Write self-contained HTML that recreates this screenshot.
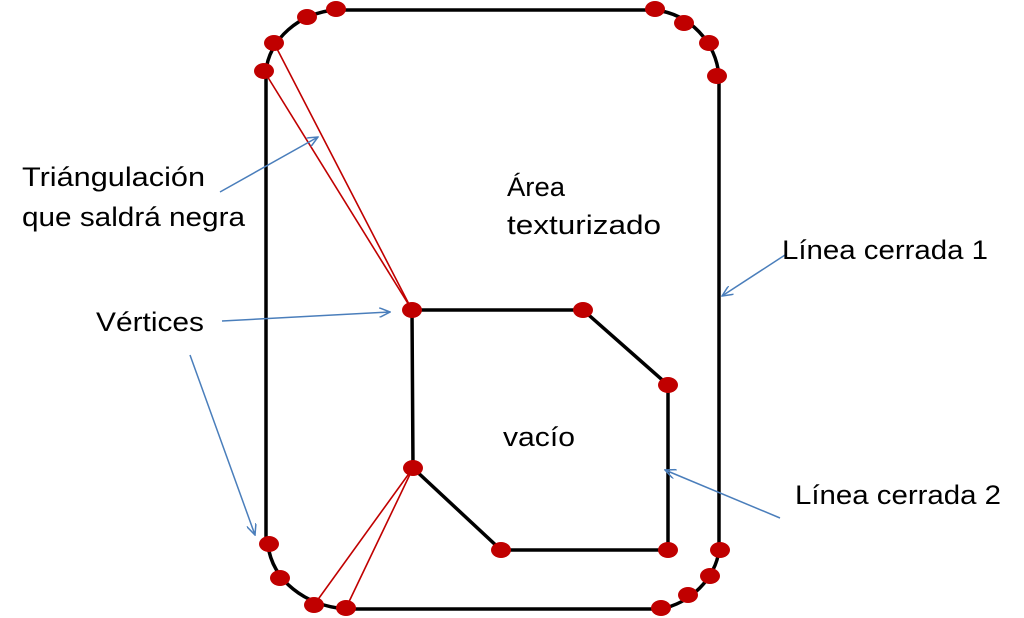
<!DOCTYPE html>
<html><head><meta charset="utf-8"><style>html,body{margin:0;padding:0;background:#fff}svg{display:block}</style></head>
<body>
<svg width="1024" height="618" viewBox="0 0 1024 618" xmlns="http://www.w3.org/2000/svg">
<defs><marker id="a" markerWidth="12" markerHeight="10" refX="11" refY="5" orient="auto" markerUnits="userSpaceOnUse"><path d="M0,0 L11,5 L0,10" fill="none" stroke="#4a7ebb" stroke-width="1.5"/></marker></defs>
<g fill="none" stroke="#000" stroke-width="3.5">
<path d="M266,545 L266,72 C268,40 300,12 336,10 L655,10 C690,14 716,42 719,76 L719,550 C716,578 690,604 660,609 L346,609 C305,606 272,580 268,545 Z"/>
<path d="M412,310 L583,310 L668,385 L668,550 L501,550 L413,468 Z"/>
</g>
<g stroke="#c00000" stroke-width="1.6">
<line x1="412" y1="310" x2="274" y2="43"/><line x1="412" y1="310" x2="264" y2="71"/>
<line x1="413" y1="468" x2="314" y2="605"/><line x1="413" y1="468" x2="346" y2="608"/>
</g>
<g fill="#c00000">
<ellipse cx="264" cy="71" rx="10" ry="8"/><ellipse cx="274" cy="43" rx="10" ry="8"/><ellipse cx="307" cy="17" rx="10" ry="8"/><ellipse cx="336" cy="9" rx="10" ry="8"/>
<ellipse cx="655" cy="9" rx="10" ry="8"/><ellipse cx="684" cy="23" rx="10" ry="8"/><ellipse cx="709" cy="43" rx="10" ry="8"/><ellipse cx="717" cy="76" rx="10" ry="8"/>
<ellipse cx="720" cy="550" rx="10" ry="8"/><ellipse cx="710" cy="576" rx="10" ry="8"/><ellipse cx="688" cy="595" rx="10" ry="8"/><ellipse cx="661" cy="608" rx="10" ry="8"/>
<ellipse cx="269" cy="544" rx="10" ry="8"/><ellipse cx="280" cy="578" rx="10" ry="8"/><ellipse cx="314" cy="605" rx="10" ry="8"/><ellipse cx="346" cy="608" rx="10" ry="8"/>
<ellipse cx="412" cy="310" rx="10" ry="8"/><ellipse cx="583" cy="310" rx="10" ry="8"/><ellipse cx="668" cy="385" rx="10" ry="8"/><ellipse cx="668" cy="550" rx="10" ry="8"/><ellipse cx="501" cy="550" rx="10" ry="8"/><ellipse cx="413" cy="468" rx="10" ry="8"/>
</g>
<g stroke="#4a7ebb" stroke-width="1.5" marker-end="url(#a)">
<line x1="220" y1="192" x2="318" y2="137"/>
<line x1="222" y1="321" x2="390" y2="312"/>
<line x1="190" y1="355" x2="255" y2="535"/>
<line x1="785" y1="255" x2="722" y2="296"/>
<line x1="780" y1="518" x2="665" y2="470"/>
</g>
<g font-family="Liberation Sans, sans-serif" font-size="27" fill="#000">
<text x="22" y="186" textLength="183" lengthAdjust="spacingAndGlyphs">Triángulación</text>
<text x="22" y="226" textLength="223" lengthAdjust="spacingAndGlyphs">que saldrá negra</text>
<text x="507" y="196" textLength="58" lengthAdjust="spacingAndGlyphs">Área</text>
<text x="507" y="234" textLength="154" lengthAdjust="spacingAndGlyphs">texturizado</text>
<text x="782" y="259" textLength="206" lengthAdjust="spacingAndGlyphs">Línea cerrada 1</text>
<text x="96" y="331" textLength="108" lengthAdjust="spacingAndGlyphs">Vértices</text>
<text x="503" y="446" textLength="72" lengthAdjust="spacingAndGlyphs">vacío</text>
<text x="795" y="504" textLength="206" lengthAdjust="spacingAndGlyphs">Línea cerrada 2</text>
</g>
</svg>
</body></html>
